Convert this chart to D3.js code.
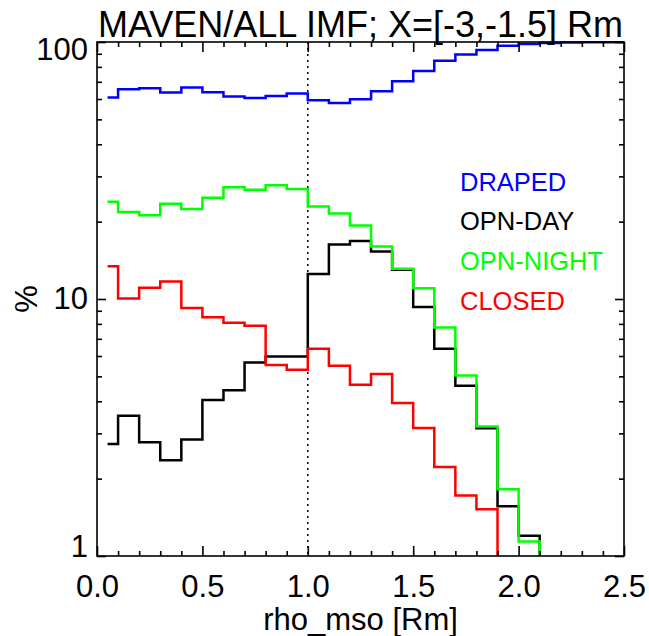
<!DOCTYPE html>
<html>
<head>
<meta charset="utf-8">
<script src="https://cdn.jsdelivr.net/npm/d3@7/dist/d3.min.js"></script>
<style>
    body { margin: 0; background: #fff; }
    svg text { font-family: "Liberation Sans", Arial, Helvetica, sans-serif; }
</style>
</head>
<body>
<svg class="metric-chart" width="649" height="636"></svg>
<script>
// bin centres along rho_mso [Rm]
var rho = [0.05, 0.15, 0.25, 0.35, 0.45, 0.55, 0.65, 0.75, 0.85, 0.95,
    1.05, 1.15, 1.25, 1.35, 1.45, 1.55, 1.65, 1.75, 1.85, 1.95,
    2.05, 2.15, 2.25, 2.35, 2.45];

var drapedPct = [60.8, 65.5, 66.1, 63.6, 66.5, 63.8, 61.4, 60.6, 61.7, 63.0,
    59.3, 57.9, 59.9, 64.3, 70.4, 77.2, 84.5, 89.4, 93.0, 96.6,
    98.2, 99.0, 99.5, 99.7, 99.7];
var opnDayPct = [2.73, 3.51, 2.77, 2.36, 2.84, 4.05, 4.42, 5.66, 5.97, 5.97,
    12.5, 16.3, 16.8, 15.3, 13.0, 9.3, 6.4, 4.6, 3.14, 1.56,
    1.20, 0, 0, 0, 0];
var opnNightPct = [23.9, 21.8, 21.2, 23.5, 22.4, 24.8, 27.2, 26.6, 27.7, 26.8,
    22.9, 21.5, 19.3, 16.0, 13.1, 11.0, 7.75, 5.04, 3.19, 1.82,
    1.14, 0, 0, 0, 0];
var closedPct = [13.4, 10.05, 11.07, 11.7, 9.22, 8.5, 8.08, 7.87, 5.53, 5.31,
    6.41, 5.5, 4.64, 5.11, 3.94, 3.15, 2.22, 1.72, 1.52, 0,
    0, 0, 0, 0, 0];

var seriesNames = ["DRAPED", "OPN-DAY", "OPN-NIGHT", "CLOSED"];
var seriesColors = ["#0000ff", "#000000", "#00ff00", "#ff0000"];

var xMajor = [0, 0.5, 1.0, 1.5, 2.0, 2.5];
var xMinor = [0.1, 0.2, 0.3, 0.4, 0.6, 0.7, 0.8, 0.9, 1.1, 1.2, 1.3, 1.4,
    1.6, 1.7, 1.8, 1.9, 2.1, 2.2, 2.3, 2.4];
var yMajor = [1, 10, 100];
var yMinor = [2, 3, 4, 5, 6, 7, 8, 9, 20, 30, 40, 50, 60, 70, 80, 90];

var titleText = "MAVEN/ALL IMF; X=[-3,-1.5] Rm";
var xLabel = "rho_mso [Rm]";
var yLabel = "%";

var svg = d3.select("svg.metric-chart"),
    margin = {top: 42, right: 25, bottom: 80, left: 97},
    width = +svg.attr("width") - margin.left - margin.right,
    height = +svg.attr("height") - margin.top - margin.bottom;

var x = d3.scaleLinear().domain([0, 2.5]).range([0, width]),
    y = d3.scaleLog().domain([1, 100]).range([height, 0]);

svg.append("defs").append("clipPath")
    .attr("id", "clip")
    .append("rect")
    .attr("y", -2)
    .attr("width", width)
    .attr("height", height + 2);

var g = svg.append("g")
    .attr("transform", "translate(" + margin.left + "," + margin.top + ")");

// IDL psym=10 style steps, first bin starts at its centre
function steps(vals) {
    var pts = [];
    vals.forEach(function(v, i) {
        var x0 = i === 0 ? rho[i] : rho[i] - 0.05;
        pts.push([x0, v], [rho[i] + 0.05, v]);
    });
    return pts;
}

var line = d3.line()
    .x(function(d) { return x(d[0]); })
    .y(function(d) { return d[1] > 0 ? y(d[1]) : height + 20; });

// dotted marker at 1 Rm
g.append("line")
    .attr("x1", x(1)).attr("x2", x(1))
    .attr("y1", 0).attr("y2", height)
    .attr("stroke", "#000")
    .attr("stroke-width", 1.5)
    .attr("stroke-dasharray", "2,4");

var plotLines = g.append("g").attr("clip-path", "url(#clip)");
[drapedPct, opnDayPct, opnNightPct, closedPct].forEach(function(vals, i) {
    plotLines.append("path")
        .datum(steps(vals))
        .attr("fill", "none")
        .attr("stroke", seriesColors[i])
        .attr("stroke-width", 2.5)
        .attr("d", line);
});

// frame
g.append("rect")
    .attr("width", width)
    .attr("height", height)
    .attr("fill", "none")
    .attr("stroke", "#000")
    .attr("stroke-width", 1.6);

function tickStyle(sel) {
    sel.select(".domain").remove();
    sel.selectAll(".tick line").attr("stroke-width", 1.6);
    sel.selectAll("text")
        .attr("fill", "#000")
        .style("font-size", "31px");
}

g.append("g")
    .attr("transform", "translate(0," + height + ")")
    .call(d3.axisBottom(x).tickValues(xMajor).tickSize(-10).tickPadding(19)
        .tickFormat(d3.format(".1f")))
    .call(tickStyle);
g.append("g")
    .attr("transform", "translate(0," + height + ")")
    .call(d3.axisBottom(x).tickValues(xMinor).tickSize(-5).tickFormat(""))
    .call(tickStyle);
g.append("g")
    .call(d3.axisTop(x).tickValues(xMajor).tickSize(-10).tickFormat(""))
    .call(tickStyle);
g.append("g")
    .call(d3.axisTop(x).tickValues(xMinor).tickSize(-5).tickFormat(""))
    .call(tickStyle);

var yAxisG = g.append("g")
    .call(d3.axisLeft(y).tickValues(yMajor).tickSize(-9).tickPadding(9)
        .tickFormat(d3.format("d")))
    .call(tickStyle);
yAxisG.selectAll("text")
    .attr("dy", function(d) { return d === 100 ? "17px" : d === 1 ? "0px" : "0.32em"; });
g.append("g")
    .call(d3.axisLeft(y).tickValues(yMinor).tickSize(-5).tickFormat(""))
    .call(tickStyle);
g.append("g")
    .attr("transform", "translate(" + width + ",0)")
    .call(d3.axisRight(y).tickValues(yMajor).tickSize(-9).tickFormat(""))
    .call(tickStyle);
g.append("g")
    .attr("transform", "translate(" + width + ",0)")
    .call(d3.axisRight(y).tickValues(yMinor).tickSize(-5).tickFormat(""))
    .call(tickStyle);

// legend text
seriesNames.forEach(function(name, i) {
    svg.append("text")
        .attr("x", 460)
        .attr("y", 190.5 + i * 39.8)
        .attr("fill", seriesColors[i])
        .style("font-size", "25.5px")
        .text(name);
});

svg.append("text")
    .attr("x", margin.left + width / 2)
    .attr("y", 37)
    .attr("text-anchor", "middle")
    .style("font-size", "36px")
    .text(titleText);

svg.append("text")
    .attr("x", margin.left + width / 2)
    .attr("y", 630)
    .attr("text-anchor", "middle")
    .style("font-size", "31px")
    .text(xLabel);

svg.append("text")
    .attr("transform", "translate(37," + (y(10) + margin.top) + ") rotate(-90)")
    .attr("text-anchor", "middle")
    .style("font-size", "31px")
    .text(yLabel);
</script>
</body>
</html>
